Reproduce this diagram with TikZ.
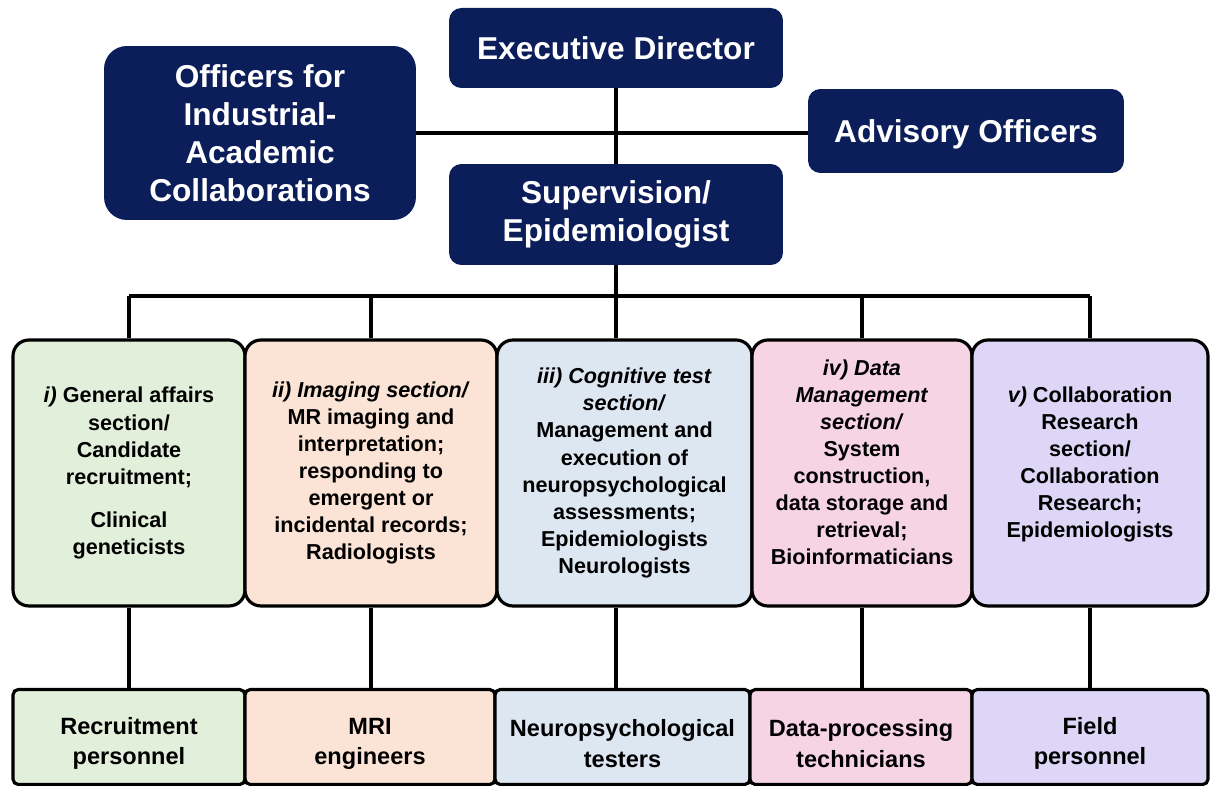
\documentclass[tikz,border=0pt]{standalone}
\usepackage{fontspec}
\setmainfont{Liberation Sans}
\definecolor{navy}{RGB}{12,30,90}
\definecolor{sage}{RGB}{226,239,218}
\definecolor{peach}{RGB}{251,228,214}
\definecolor{mist}{RGB}{221,231,242}
\definecolor{rose}{RGB}{246,212,228}
\definecolor{lilac}{RGB}{222,214,246}

\newcommand\lift{\rule{0pt}{17pt}}

\begin{document}
\begin{tikzpicture}[x=0.02cm,y=-0.02cm,
  head/.style={fill=navy,text=white,align=center,inner sep=0pt,rounded corners=7pt,
    font=\bfseries\fontsize{18}{21.6}\selectfont},
  section/.style={draw,line width=1.8pt,rounded corners=9pt,align=center,inner sep=0pt,
    minimum height=5.32cm,font=\bfseries\fontsize{12.3}{15.4}\selectfont},
  staff/.style={draw,line width=1.8pt,rounded corners=3pt,align=center,inner sep=0pt,
    minimum height=1.9cm,font=\bfseries\fontsize{13.4}{17.5}\selectfont},
  link/.style={line width=2pt}]

\useasboundingbox (0,0) rectangle (1210,786);

\newcommand\BUS{296}

  %% management
  \node[head,minimum width=6.68cm,minimum height=1.6cm] (dir) at (616,48) {Executive Director};
  \node[head,minimum width=6.24cm,minimum height=3.48cm,rounded corners=13pt] (ind) at (260,133)
  {Officers for\\Industrial-\\Academic\\Collaborations};
  \node[head,minimum width=6.32cm,minimum height=1.68cm] (adv) at (966,131) {\lift Advisory Officers};
  \node[head,minimum width=6.68cm,minimum height=2.02cm] (sup) at (616,214.5)
  {Supervision/\\Epidemiologist};

  %% sections
  \node[section,fill=sage,minimum width=4.64cm] (s1) at (129,473)
  {\textit{i)} General affairs\\section/\\Candidate\\recruitment;\\[9pt]Clinical\\geneticists};
  \node[section,fill=peach,minimum width=5.04cm] (s2) at (371,473)
  {\textit{ii) Imaging section/}\\MR imaging and\\interpretation;\\responding to\\emergent or\\incidental records;\\Radiologists};
  \node[section,fill=mist,minimum width=5.1cm] (s3) at (624.5,473)
  {\textit{iii) Cognitive test}\\\textit{section/}\\Management and\\execution of\\neuropsychological\\assessments;\\Epidemiologists\\Neurologists};
  \node[section,fill=rose,minimum width=4.4cm] (s4) at (862,473)
  {\textit{iv) Data}\\\textit{Management}\\\textit{section/}\\System\\construction,\\data storage and\\retrieval;\\Bioinformaticians\\[-3pt]};
  \node[section,fill=lilac,minimum width=4.72cm] (s5) at (1090,473)
  {\textit{v)} Collaboration\\Research\\section/\\Collaboration\\Research;\\Epidemiologists\\[-3pt]};

  %% staff
  \node[staff,fill=sage,minimum width=4.64cm] (b1) at (129,737) {\lift Recruitment\\personnel};
  \node[staff,fill=peach,minimum width=5.0cm] (b2) at (370,737) {\lift MRI\\engineers};
  \node[staff,fill=mist,minimum width=5.1cm] (b3) at (622.5,737) {\lift Neuropsychological\\testers};
  \node[staff,fill=rose,minimum width=4.44cm] (b4) at (861,737) {\lift Data-processing\\technicians};
  \node[staff,fill=lilac,minimum width=4.72cm] (b5) at (1090,737) {\lift Field\\personnel};

  %% lines
  \draw[link] (dir) -- (sup);
  \draw[link] (ind.east) -- (ind.east -| adv.west);
  \coordinate (bus) at (0,\BUS);
  \draw[link] (sup.south) -- (sup.south |- bus);
  \draw[link] (s1.north |- bus) -- (s5.north |- bus);
  \foreach \s in {s1,s2,s4,s5}
    \draw[link] (\s.north |- bus) -- (\s.north);
  \draw[link] (sup.south |- bus) -- (sup.south |- s3.north);
  \foreach \s/\b in {s1/b1,s2/b2,s4/b4,s5/b5}
    \draw[link] (\s.south) -- (\s.south |- \b.north);
  \draw[link] (sup.south |- s3.south) -- (sup.south |- b3.north);

\end{tikzpicture}
\end{document}
